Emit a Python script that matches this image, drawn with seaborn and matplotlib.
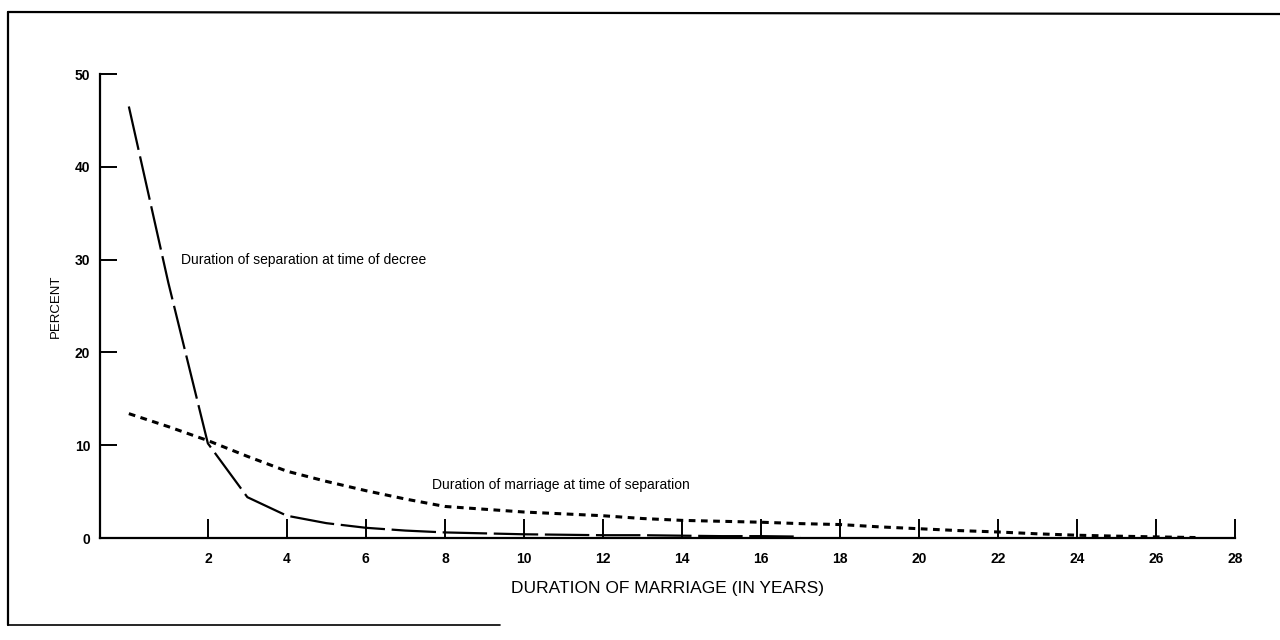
import matplotlib
matplotlib.use("Agg")
import matplotlib.pyplot as plt
from matplotlib.lines import Line2D
import seaborn as sns
import pandas as pd

# ---- data ----
sep_years = [0, 1, 2, 3, 4, 5, 6, 7, 8, 9, 10, 11, 12, 13, 14, 15, 16, 17]
sep_pct = [46.5, 27.5, 10.2, 4.4, 2.4, 1.6, 1.1, 0.8, 0.6, 0.5, 0.4, 0.35, 0.3, 0.3, 0.25, 0.2, 0.2, 0.15]

mar_years = list(range(0, 28))
mar_pct = [13.4, 12.0, 10.5, 8.8, 7.2, 6.1, 5.1, 4.2, 3.4, 3.1, 2.8, 2.6, 2.4, 2.1, 1.9, 1.8, 1.7, 1.55,
           1.45, 1.2, 1.0, 0.8, 0.65, 0.45, 0.3, 0.2, 0.12, 0.05]

x_ticks = [2, 4, 6, 8, 10, 12, 14, 16, 18, 20, 22, 24, 26, 28]
y_ticks = [0, 10, 20, 30, 40, 50]

label_sep = "Duration of separation at time of decree"
label_mar = "Duration of marriage at time of separation"
x_title = "DURATION OF MARRIAGE (IN YEARS)"
y_title = "PERCENT"

sep_df = pd.DataFrame({"year": sep_years, "pct": sep_pct})
mar_df = pd.DataFrame({"year": mar_years, "pct": mar_pct})

sns.set_style("white")
plt.rcParams["font.family"] = ["Liberation Sans", "DejaVu Sans"]
plt.rcParams["text.color"] = "black"
plt.rcParams["axes.labelcolor"] = "black"

fig = plt.figure(figsize=(12.8, 6.4), dpi=100)
ax = fig.add_axes([100 / 1280, 1 - 538 / 640, (1235 - 100) / 1280, (538 - 74) / 640])

sns.lineplot(data=sep_df, x="year", y="pct", ax=ax, color="black", lw=1.6,
             linestyle=(0, (20, 3)), legend=False)
sns.lineplot(data=mar_df, x="year", y="pct", ax=ax, color="black", lw=2.2,
             linestyle=(0, (2.2, 1.8)), legend=False)

ax.set_xlim(-0.73, 28)
ax.set_ylim(0, 50)
ax.set_xticks(x_ticks)
ax.set_yticks(y_ticks)
ax.set_xticklabels([str(t) for t in x_ticks], fontsize=10, fontweight="bold")
ax.set_yticklabels([str(t) for t in y_ticks], fontsize=10, fontweight="bold")
ax.tick_params(axis="x", bottom=True, direction="in", length=14, width=1.4, pad=10,
               colors="black")
ax.tick_params(axis="y", left=True, direction="in", length=12, width=1.4, pad=7,
               colors="black")

for s in ["top", "right"]:
    ax.spines[s].set_visible(False)
for s in ["left", "bottom"]:
    ax.spines[s].set_linewidth(1.6)
    ax.spines[s].set_color("black")

ax.set_xlabel(x_title, fontsize=12.5, color="black")
ax.set_ylabel(y_title, fontsize=9.5, color="black")
ax.xaxis.set_label_coords(0.5, (538 - 581) / 464)
ax.yaxis.set_label_coords((62 - 100) / 1135, 0.5)

ax.text(1.32, 30, label_sep, fontsize=10, va="center", ha="left", color="black")
ax.text(7.67, 5.7, label_mar, fontsize=10, va="center", ha="left", color="black")

# page frame from the scanned figure
fig.add_artist(Line2D([8 / 1280, 1.0], [1 - 12 / 640, 1 - 14 / 640], color="black", lw=1.6))
fig.add_artist(Line2D([8 / 1280, 8 / 1280], [1 - 12 / 640, 1 - 625 / 640], color="black", lw=1.6))
fig.add_artist(Line2D([8 / 1280, 500 / 1280], [1 - 625 / 640, 1 - 625 / 640], color="black", lw=1.2))

fig.savefig("out.png", dpi=100)
